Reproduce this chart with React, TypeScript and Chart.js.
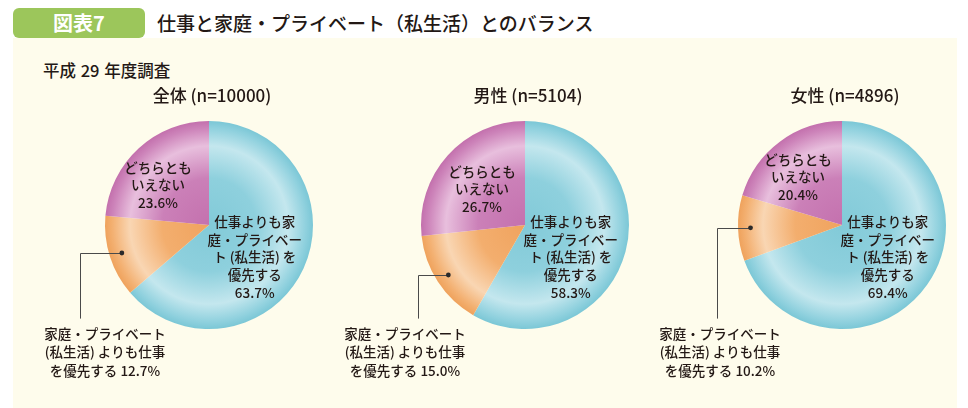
import React, { useEffect, useRef } from "react";
import { Chart, registerables } from "chart.js";

Chart.register(...registerables);

// ---- data ----
const categories = [
  "仕事よりも家庭・プライベート（私生活）を優先する",
  "家庭・プライベート（私生活）よりも仕事を優先する",
  "どちらともいえない",
];
const groupTitles = ["全体 (n=10000)", "男性 (n=5104)", "女性 (n=4896)"];
const totalValues = [63.7, 12.7, 23.6];
const maleValues = [58.3, 15.0, 26.7];
const femaleValues = [69.4, 10.2, 20.4];
const groupValues = [totalValues, maleValues, femaleValues];

const privateFirstLines = ["仕事よりも家", "庭・プライベー", "ト (私生活) を", "優先する"];
const workFirstLines = ["家庭・プライベート", "(私生活) よりも仕事", "を優先する"];
const neutralLines = ["どちらとも", "いえない"];

const figureTag = "図表7";
const figureTitle = "仕事と家庭・プライベート（私生活）とのバランス";
const surveyLabel = "平成 29 年度調査";

// ---- layout / style ----
const PIE_CENTERS_X = [209, 525, 842];
const PIE_CENTER_Y = 225;
const CANVAS_TOP = 40;
const CANVAS_W = 320;
const CANVAS_H = 368;
const LEFT_SPACE = 200;
const RADIUS = 104;
// per-pie label tweaks (relative to pie center, px)
const neutralOffsets = [
  [-51, -40],
  [-43, -36],
  [-44, -48],
];
const calloutLeaderX = [-129, -107, -125];
const calloutLabelX = [-104, -120, -122];

const FONT = '"Noto Sans CJK JP", "Noto Sans", sans-serif';
const TEXT = "#231815";

const gradients: [number, string][][] = [
  [
    [0, "#82CAD8"],
    [0.45, "#8ED0DD"],
    [0.76, "#C4E7EE"],
    [0.93, "#90D1DE"],
    [1, "#7BC7D6"],
  ],
  [
    [0, "#F0A35E"],
    [0.45, "#F3AE6E"],
    [0.76, "#F9D6B3"],
    [0.93, "#F3B071"],
    [1, "#EFA25C"],
  ],
  [
    [0, "#C471AE"],
    [0.45, "#CB80B8"],
    [0.76, "#E8BFDD"],
    [0.93, "#CD84BA"],
    [1, "#C370AD"],
  ],
];

function radialFill(chart: any, stops: [number, string][]) {
  const area = chart.chartArea;
  if (!area) return stops[1][1];
  const cx = (area.left + area.right) / 2;
  const cy = (area.top + area.bottom) / 2;
  const r = Math.min(area.width, area.height) / 2;
  const g = chart.ctx.createRadialGradient(cx, cy, 0, cx, cy, r);
  stops.forEach(([p, c]) => g.addColorStop(p, c));
  return g;
}

function PieChart({ index }: { index: number }) {
  const ref = useRef<HTMLCanvasElement | null>(null);
  useEffect(() => {
    if (!ref.current) return;
    const values = groupValues[index];
    const labelPlugin = {
      id: "pieLabels",
      afterDatasetsDraw(chart: any) {
        const arcs = chart.getDatasetMeta(0).data as any[];
        if (!arcs.length) return;
        const a0 = arcs[0];
        const cx = a0.x;
        const cy = a0.y;
        const r = a0.outerRadius;
        const ctx = chart.ctx as CanvasRenderingContext2D;
        ctx.save();
        ctx.fillStyle = TEXT;
        ctx.textAlign = "center";
        ctx.textBaseline = "middle";

        // title
        ctx.font = `500 17px ${FONT}`;
        ctx.fillText(groupTitles[index], cx + 3, cy - r - 25);

        ctx.font = `500 13.5px ${FONT}`;
        // private-first (blue) label
        const blueLines = [...privateFirstLines, values[0].toFixed(1) + "%"];
        const bx = cx + r * 0.44;
        const byMid = cy + r * 0.31;
        const lh = 17.6;
        blueLines.forEach((t, i) => ctx.fillText(t, bx, byMid + (i - 2) * lh));

        // neutral (magenta) label
        const magLines = [...neutralLines, values[2].toFixed(1) + "%"];
        const [mdx, mdy] = neutralOffsets[index];
        magLines.forEach((t, i) => ctx.fillText(t, cx + mdx, cy + mdy + (i - 1) * 17.5));

        // work-first (orange) callout
        const arc = arcs[1];
        const mid = (arc.startAngle + arc.endAngle) / 2;
        const dx = cx + Math.cos(mid) * r * 0.88;
        const dy = cy + Math.sin(mid) * r * 0.88;
        const lx = cx + calloutLeaderX[index];
        const ly = cy + r * 0.9;
        ctx.strokeStyle = "#4a4a4a";
        ctx.lineWidth = 1;
        ctx.beginPath();
        ctx.moveTo(dx, Math.round(dy) + 0.5);
        ctx.lineTo(Math.round(lx) + 0.5, Math.round(dy) + 0.5);
        ctx.lineTo(Math.round(lx) + 0.5, ly);
        ctx.stroke();
        ctx.beginPath();
        ctx.fillStyle = "#2a2a2a";
        ctx.arc(dx, dy, 2.4, 0, Math.PI * 2);
        ctx.fill();

        ctx.fillStyle = TEXT;
        const orangeLines = [
          workFirstLines[0],
          workFirstLines[1],
          workFirstLines[2] + " " + values[1].toFixed(1) + "%",
        ];
        const tx = cx + calloutLabelX[index];
        orangeLines.forEach((t, i) => ctx.fillText(t, tx, cy + r * 1.045 + i * 18.5));
        ctx.restore();
      },
    };

    const chart = new Chart(ref.current, {
      type: "pie",
      data: {
        labels: categories,
        datasets: [
          {
            data: values,
            backgroundColor: (c: any) => radialFill(c.chart, gradients[c.dataIndex]),
            borderWidth: 0,
            hoverOffset: 0,
            offset: 0,
          },
        ],
      },
      options: {
        animation: false,
        responsive: false,
        events: [],
        rotation: 0,
        layout: {
          padding: {
            left: LEFT_SPACE - RADIUS,
            right: CANVAS_W - LEFT_SPACE - RADIUS,
            top: PIE_CENTER_Y - CANVAS_TOP - RADIUS,
            bottom: CANVAS_H - (PIE_CENTER_Y - CANVAS_TOP) - RADIUS,
          },
        },
        plugins: {
          legend: { display: false },
          tooltip: { enabled: false },
          title: { display: false },
        },
      } as any,
      plugins: [labelPlugin],
    });
    return () => chart.destroy();
  }, [index]);

  return (
    <canvas
      ref={ref}
      width={CANVAS_W}
      height={CANVAS_H}
      style={{
        position: "absolute",
        left: PIE_CENTERS_X[index] - LEFT_SPACE,
        top: CANVAS_TOP,
        width: CANVAS_W,
        height: CANVAS_H,
      }}
    />
  );
}

export default function App() {
  return (
    <div
      style={{
        position: "absolute",
        left: 0,
        top: 0,
        width: 968,
        height: 408,
        overflow: "hidden",
        background: "#ffffff",
        fontFamily: FONT,
        color: TEXT,
      }}
    >
      <div
        style={{
          position: "absolute",
          left: 13,
          top: 38,
          width: 944,
          height: 370,
          background: "#FEFCEC",
        }}
      />
      <div
        style={{
          position: "absolute",
          left: 13,
          top: 8,
          width: 132,
          height: 30,
          borderRadius: 6,
          background: "#9CC65B",
          color: "#ffffff",
          fontWeight: 700,
          fontSize: 20,
          lineHeight: "30px",
          textAlign: "center",
        }}
      >
        {figureTag}
      </div>
      <div
        style={{
          position: "absolute",
          left: 157,
          top: 8,
          height: 30,
          lineHeight: "30px",
          fontSize: 19,
          fontWeight: 500,
          whiteSpace: "nowrap",
        }}
      >
        {figureTitle}
      </div>
      <div
        style={{
          position: "absolute",
          left: 43,
          top: 58,
          height: 24,
          lineHeight: "24px",
          fontSize: 16.5,
          fontWeight: 500,
          whiteSpace: "nowrap",
          wordSpacing: 1,
        }}
      >
        {surveyLabel}
      </div>
      {[0, 1, 2].map((i) => (
        <PieChart key={i} index={i} />
      ))}
    </div>
  );
}
